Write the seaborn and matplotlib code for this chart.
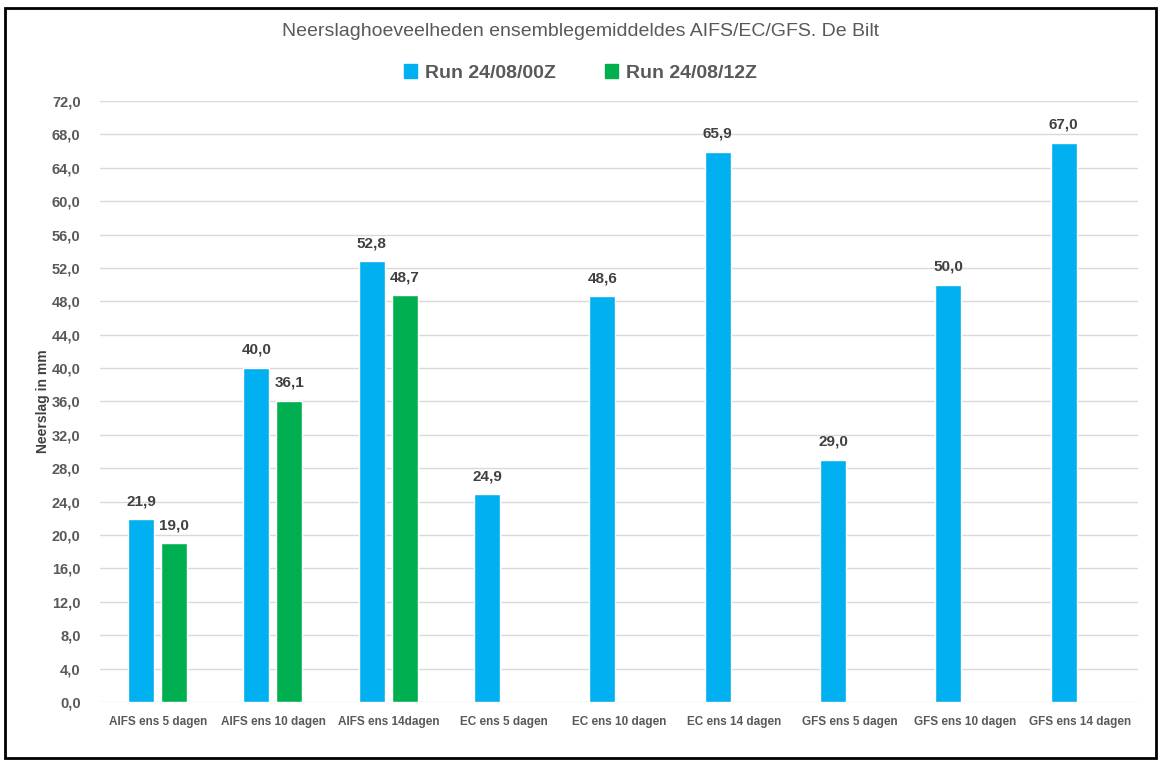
import matplotlib
matplotlib.use('Agg')
import matplotlib.pyplot as plt
import numpy as np
import pandas as pd
import seaborn as sns
from matplotlib.patches import Rectangle

categorieen = ['AIFS ens 5 dagen', 'AIFS ens 10 dagen', 'AIFS ens 14dagen',
               'EC ens 5 dagen', 'EC ens 10 dagen', 'EC ens 14 dagen',
               'GFS ens 5 dagen', 'GFS ens 10 dagen', 'GFS ens 14 dagen']
run_00z = [21.9, 40.0, 52.8, 24.9, 48.6, 65.9, 29.0, 50.0, 67.0]
run_12z = [19.0, 36.1, 48.7, np.nan, np.nan, np.nan, np.nan, np.nan, np.nan]
series = ['Run 24/08/00Z', 'Run 24/08/12Z']
kleuren = ['#00B0F0', '#00B050']

df = pd.DataFrame({
    'cat': categorieen * 2,
    'run': [series[0]] * len(categorieen) + [series[1]] * len(categorieen),
    'mm': run_00z + run_12z,
})

sns.set_style('white')
plt.rcParams['font.family'] = ['Liberation Sans', 'DejaVu Sans']

fig = plt.figure(figsize=(11.61, 7.62), dpi=100)
ax = fig.add_axes([0.0861, 0.0787, 0.894, 0.7888])

sns.barplot(data=df, x='cat', y='mm', hue='run', order=categorieen, hue_order=series,
            palette=kleuren, width=0.572, gap=0.21, ax=ax, saturation=1, legend=False)

grijs = '#595959'
ax.set_ylim(0, 72)
ax.set_yticks(np.arange(0, 73, 4))
ax.set_yticklabels([f"{v:.1f}".replace('.', ',') for v in np.arange(0, 73, 4)],
                   fontsize=10.5, fontweight='bold', color=grijs)
ax.set_xticks(range(len(categorieen)))
ax.set_xticklabels(categorieen, fontsize=8.5, fontweight='bold', color=grijs)
ax.tick_params(axis='y', length=0, pad=14)
ax.tick_params(axis='x', length=0, pad=10)
ax.grid(axis='y', color='#D9D9D9', linewidth=1)
ax.set_axisbelow(True)
for s in ax.spines.values():
    s.set_visible(False)
ax.set_xlabel('')
ax.set_ylabel('Neerslag in mm', fontsize=10, fontweight='bold', color='#404040', labelpad=1)

for cont in ax.containers:
    labels = ['' if np.isnan(v) else f"{v:.1f}".replace('.', ',') for v in cont.datavalues]
    ax.bar_label(cont, labels=labels, padding=8, fontsize=11, fontweight='bold', color='#404040')

fig.text(0.5, 1 - 31 / 762, 'Neerslaghoeveelheden ensemblegemiddeldes AIFS/EC/GFS. De Bilt',
         ha='center', va='center', fontsize=14, color=grijs)

handles = [Rectangle((0, 0), 1, 1, color=c) for c in kleuren]
fig.legend(handles, series, loc='center', bbox_to_anchor=(0.5, 1 - 73 / 762), ncol=2,
           frameon=False, prop={'size': 14, 'weight': 'bold'}, labelcolor=grijs,
           handlelength=0.7, handleheight=0.7, handletextpad=0.4, columnspacing=2.5)

fig.patches.append(Rectangle((0.004, 0.005), 0.992, 0.985, transform=fig.transFigure,
                             fill=False, edgecolor='black', linewidth=2))

fig.savefig('out.png', dpi=100, facecolor='white')
